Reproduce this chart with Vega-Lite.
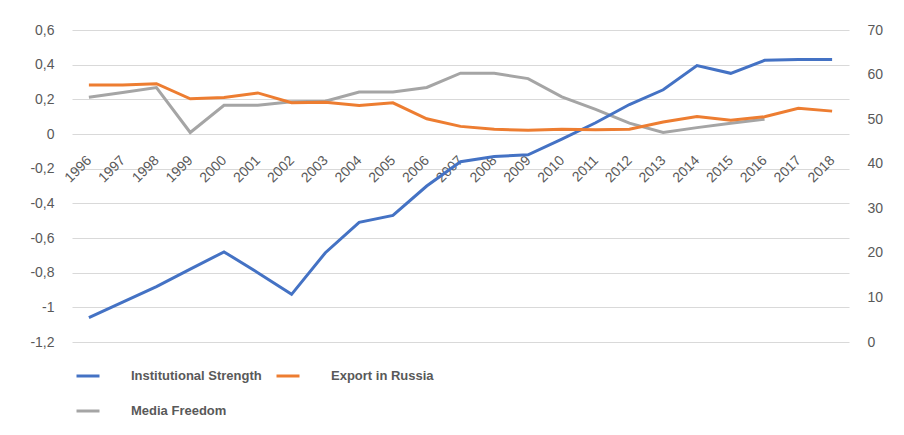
{
  "$schema": "https://vega.github.io/schema/vega-lite/v6.json",
  "width": 777,
  "height": 312,
  "autosize": {"type": "none"},
  "padding": {"left": 72, "top": 30, "right": 55, "bottom": 93},
  "background": "white",
  "config": {
    "view": {"stroke": null},
    "font": "Liberation Sans",
    "axis": {"labelColor": "#595959", "labelFontSize": 14, "title": null, "domain": false, "ticks": false, "gridColor": "#d9d9d9", "gridWidth": 1}
  },
  "data": {"values": [
    {"year": 1996, "series": "Institutional Strength", "value": -1.06},
    {"year": 1997, "series": "Institutional Strength", "value": -0.97},
    {"year": 1998, "series": "Institutional Strength", "value": -0.88},
    {"year": 1999, "series": "Institutional Strength", "value": -0.78},
    {"year": 2000, "series": "Institutional Strength", "value": -0.68},
    {"year": 2001, "series": "Institutional Strength", "value": -0.80},
    {"year": 2002, "series": "Institutional Strength", "value": -0.925},
    {"year": 2003, "series": "Institutional Strength", "value": -0.685},
    {"year": 2004, "series": "Institutional Strength", "value": -0.51},
    {"year": 2005, "series": "Institutional Strength", "value": -0.47},
    {"year": 2006, "series": "Institutional Strength", "value": -0.30},
    {"year": 2007, "series": "Institutional Strength", "value": -0.16},
    {"year": 2008, "series": "Institutional Strength", "value": -0.13},
    {"year": 2009, "series": "Institutional Strength", "value": -0.12},
    {"year": 2010, "series": "Institutional Strength", "value": -0.03},
    {"year": 2011, "series": "Institutional Strength", "value": 0.065},
    {"year": 2012, "series": "Institutional Strength", "value": 0.17},
    {"year": 2013, "series": "Institutional Strength", "value": 0.255},
    {"year": 2014, "series": "Institutional Strength", "value": 0.395},
    {"year": 2015, "series": "Institutional Strength", "value": 0.35},
    {"year": 2016, "series": "Institutional Strength", "value": 0.425},
    {"year": 2017, "series": "Institutional Strength", "value": 0.43},
    {"year": 2018, "series": "Institutional Strength", "value": 0.43},
    {"year": 1996, "series": "Export in Russia", "value": 0.283},
    {"year": 1997, "series": "Export in Russia", "value": 0.283},
    {"year": 1998, "series": "Export in Russia", "value": 0.29},
    {"year": 1999, "series": "Export in Russia", "value": 0.203},
    {"year": 2000, "series": "Export in Russia", "value": 0.21},
    {"year": 2001, "series": "Export in Russia", "value": 0.237},
    {"year": 2002, "series": "Export in Russia", "value": 0.18},
    {"year": 2003, "series": "Export in Russia", "value": 0.183},
    {"year": 2004, "series": "Export in Russia", "value": 0.165},
    {"year": 2005, "series": "Export in Russia", "value": 0.18},
    {"year": 2006, "series": "Export in Russia", "value": 0.088},
    {"year": 2007, "series": "Export in Russia", "value": 0.044},
    {"year": 2008, "series": "Export in Russia", "value": 0.027},
    {"year": 2009, "series": "Export in Russia", "value": 0.021},
    {"year": 2010, "series": "Export in Russia", "value": 0.027},
    {"year": 2011, "series": "Export in Russia", "value": 0.024},
    {"year": 2012, "series": "Export in Russia", "value": 0.027},
    {"year": 2013, "series": "Export in Russia", "value": 0.069},
    {"year": 2014, "series": "Export in Russia", "value": 0.101},
    {"year": 2015, "series": "Export in Russia", "value": 0.079},
    {"year": 2016, "series": "Export in Russia", "value": 0.1},
    {"year": 2017, "series": "Export in Russia", "value": 0.149},
    {"year": 2018, "series": "Export in Russia", "value": 0.132},
    {"year": 1996, "series": "Media Freedom", "value": 54.9},
    {"year": 1997, "series": "Media Freedom", "value": 56.0},
    {"year": 1998, "series": "Media Freedom", "value": 57.1},
    {"year": 1999, "series": "Media Freedom", "value": 47.0},
    {"year": 2000, "series": "Media Freedom", "value": 53.1},
    {"year": 2001, "series": "Media Freedom", "value": 53.1},
    {"year": 2002, "series": "Media Freedom", "value": 53.9},
    {"year": 2003, "series": "Media Freedom", "value": 54.0},
    {"year": 2004, "series": "Media Freedom", "value": 56.1},
    {"year": 2005, "series": "Media Freedom", "value": 56.1},
    {"year": 2006, "series": "Media Freedom", "value": 57.1},
    {"year": 2007, "series": "Media Freedom", "value": 60.3},
    {"year": 2008, "series": "Media Freedom", "value": 60.3},
    {"year": 2009, "series": "Media Freedom", "value": 59.1},
    {"year": 2010, "series": "Media Freedom", "value": 55.0},
    {"year": 2011, "series": "Media Freedom", "value": 52.2},
    {"year": 2012, "series": "Media Freedom", "value": 49.1},
    {"year": 2013, "series": "Media Freedom", "value": 47.0},
    {"year": 2014, "series": "Media Freedom", "value": 48.1},
    {"year": 2015, "series": "Media Freedom", "value": 49.1},
    {"year": 2016, "series": "Media Freedom", "value": 50.0}
  ]},
  "encoding": {
    "x": {
      "field": "year",
      "type": "ordinal",
      "axis": {
        "offset": -208,
        "labelAngle": -45,
        "labelAlign": "right",
        "labelBaseline": "middle",
        "labelPadding": 24,
        "grid": false
      }
    },
    "color": {
      "field": "series",
      "type": "nominal",
      "scale": {
        "domain": ["Institutional Strength", "Media Freedom", "Export in Russia"],
        "range": ["#4472c4", "#a5a5a5", "#ed7d31"]
      },
      "legend": {
        "title": null,
        "orient": "none",
        "legendX": 3,
        "legendY": 333,
        "columns": 2,
        "symbolType": "stroke",
        "symbolSize": 529,
        "symbolStrokeWidth": 3,
        "labelOffset": 30,
        "labelFont": "Liberation Sans",
        "labelFontSize": 13,
        "labelFontWeight": "bold",
        "labelColor": "#595959",
        "columnPadding": 8,
        "rowPadding": 15
      }
    }
  },
  "layer": [
    {
      "transform": [{"filter": "datum.series === 'Media Freedom'"}],
      "mark": {"type": "line", "strokeWidth": 3},
      "encoding": {
        "y": {
          "field": "value",
          "type": "quantitative",
          "scale": {"domain": [0, 70], "nice": false},
          "axis": {"orient": "right", "values": [0, 10, 20, 30, 40, 50, 60, 70], "grid": false, "labelPadding": 18}
        }
      }
    },
    {
      "transform": [{"filter": "datum.series !== 'Media Freedom'"}],
      "mark": {"type": "line", "strokeWidth": 3},
      "encoding": {
        "y": {
          "field": "value",
          "type": "quantitative",
          "scale": {"domain": [-1.2, 0.6], "nice": false, "zero": false},
          "axis": {
            "orient": "left",
            "values": [-1.2, -1, -0.8, -0.6, -0.4, -0.2, 0, 0.2, 0.4, 0.6],
            "labelExpr": "replace(toString(datum.value), '.', ',')",
            "grid": true,
            "labelPadding": 18
          }
        },
        "order": {"field": "year", "type": "ordinal"}
      }
    }
  ],
  "resolve": {"scale": {"y": "independent"}}
}
